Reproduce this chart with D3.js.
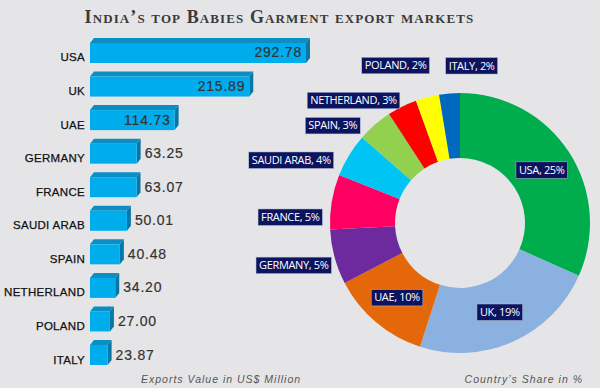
<!DOCTYPE html>
<html>
<head>
<meta charset="utf-8">
<script src="https://cdn.jsdelivr.net/npm/d3@7"></script>
<style>
  html, body { margin: 0; padding: 0; background: #e5e5e7; }
  svg { display: block; }
</style>
</head>
<body>
<svg id="chart" width="600" height="388"></svg>
<script>
// data
const countries = ['USA', 'UK', 'UAE', 'GERMANY', 'FRANCE', 'SAUDI ARAB', 'SPAIN', 'NETHERLAND', 'POLAND', 'ITALY'];
const exportValues = [292.78, 215.89, 114.73, 63.25, 63.07, 50.01, 40.48, 34.20, 27.00, 23.87];
const sharePct = [25, 19, 10, 5, 5, 4, 3, 3, 2, 2];
const sliceColors = ['#00ad4c', '#8bb1e1', '#e4680a', '#6c2a9e', '#ff0062', '#00c4f4', '#92d050', '#ff0000', '#ffff00', '#0068bd'];

const width = 600, height = 388;
const svg = d3.select('#chart');

svg.append('rect').attr('width', width).attr('height', height).attr('fill', '#e5e5e7');

// title
svg.append('text')
  .attr('x', 279.5).attr('y', 23)
  .attr('text-anchor', 'middle')
  .attr('font-family', 'Liberation Serif, serif')
  .attr('font-size', 18)
  .attr('font-weight', 'bold')
  .style('font-variant', 'small-caps')
  .attr('letter-spacing', 1.1)
  .attr('fill', '#3a3a3a')
  .text('India’s top Babies Garment export markets');

// ---- bar chart (pseudo 3D) ----
const x = d3.scaleLinear().domain([0, d3.max(exportValues)]).range([90, 306]);
const y = d3.scaleBand().domain(countries).range([43, 365]).paddingInner(0.404).paddingOuter(0);
const depthX = 4, depthY = 5;

const bars = svg.append('g')
  .selectAll('g')
  .data(countries.map((c, i) => ({ c, v: exportValues[i] })))
  .enter()
  .append('g');

// top face
bars.append('path')
  .attr('fill', '#0b8ec3')
  .attr('d', d => {
    const x0 = x(0), x1 = x(d.v), yy = y(d.c);
    return `M${x0},${yy}L${x0 + depthX},${yy - depthY}L${x1 + depthX},${yy - depthY}L${x1},${yy}Z`;
  });

// side face
bars.append('path')
  .attr('fill', '#0a76a6')
  .attr('d', d => {
    const x1 = x(d.v), yy = y(d.c), h = y.bandwidth();
    return `M${x1},${yy}L${x1 + depthX},${yy - depthY}L${x1 + depthX},${yy + h - depthY}L${x1},${yy + h}Z`;
  });

// front face
bars.append('rect')
  .attr('x', x(0))
  .attr('y', d => y(d.c))
  .attr('width', d => x(d.v) - x(0))
  .attr('height', y.bandwidth())
  .attr('fill', '#00adec');

// category labels
bars.append('text')
  .attr('x', x(0) - 5)
  .attr('y', d => y(d.c) + y.bandwidth() - 1.5)
  .attr('text-anchor', 'end')
  .attr('font-family', 'Liberation Sans, Arial, sans-serif')
  .attr('font-size', 11.5)
  .attr('letter-spacing', 0.3)
  .attr('fill', '#111')
  .attr('stroke', '#111')
  .attr('stroke-width', 0.25)
  .text(d => d.c);

// value labels: inside the long bars, outside the short ones
bars.append('text')
  .attr('x', d => d.v > 100 ? x(d.v) - 4 : x(d.v) + depthX + 4)
  .attr('y', d => y(d.c) + y.bandwidth() / 2 + 4.5)
  .attr('text-anchor', d => d.v > 100 ? 'end' : 'start')
  .attr('font-family', 'Liberation Sans, Arial, sans-serif')
  .attr('font-size', 14)
  .attr('letter-spacing', 0.8)
  .attr('fill', '#333')
  .attr('stroke', '#333')
  .attr('stroke-width', 0.2)
  .text(d => d.v.toFixed(2));

// ---- donut ----
const cx = 460, cy = 223, rOuter = 130, rInner = 65;
const pie = d3.pie().sort(null).value(d => d.v);
const arcs = pie(countries.map((c, i) => ({ c, v: exportValues[i], p: sharePct[i], i })));
const arc = d3.arc().innerRadius(rInner).outerRadius(rOuter);
const labelArc = d3.arc().innerRadius(165).outerRadius(165);

const donut = svg.append('g').attr('transform', `translate(${cx},${cy})`);
donut.selectAll('path')
  .data(arcs)
  .enter()
  .append('path')
  .attr('d', arc)
  .attr('fill', d => sliceColors[d.data.i]);

// label nudges (layout only): first three sit inside the ring
const labelNudge = [[0, 0], [0, 0], [0, 0], [-7, -1], [-7, 21], [-28, 23], [-19, 27], [-33, 25], [-23, 2], [25, 7]];

const labels = donut.selectAll('g.lbl')
  .data(arcs)
  .enter()
  .append('g')
  .attr('class', 'lbl')
  .attr('transform', d => {
    const p = d.data.i < 3 ? arc.centroid(d) : labelArc.centroid(d);
    const n = labelNudge[d.data.i];
    return `translate(${p[0] + n[0]},${p[1] + n[1]})`;
  });

labels.append('rect')
  .attr('fill', '#0c1460')
  .attr('stroke', '#b9bfd6')
  .attr('stroke-width', 0.5);

const ltext = labels.append('text')
  .attr('text-anchor', 'middle')
  .attr('y', 4)
  .attr('font-family', 'Open Sans, sans-serif')
  .attr('font-size', 11)
  .attr('letter-spacing', -0.35)
  .attr('fill', '#fff')
  .text(d => `${d.data.c}, ${d.data.p}%`);

ltext.each(function () {
  const w = this.getComputedTextLength();
  d3.select(this.parentNode).select('rect')
    .attr('x', -w / 2 - 3).attr('y', -8)
    .attr('width', w + 6).attr('height', 16.5);
});

// footers
svg.append('text')
  .attr('x', 141).attr('y', 383)
  .attr('font-family', 'Liberation Sans, Arial, sans-serif')
  .attr('font-style', 'italic')
  .attr('font-size', 10.5)
  .attr('letter-spacing', 1)
  .attr('fill', '#555')
  .text('Exports Value in US$ Million');

svg.append('text')
  .attr('x', 583).attr('y', 383)
  .attr('text-anchor', 'end')
  .attr('font-family', 'Liberation Sans, Arial, sans-serif')
  .attr('font-style', 'italic')
  .attr('font-size', 10.5)
  .attr('letter-spacing', 1)
  .attr('fill', '#555')
  .text('Country’s Share in %');
</script>
</body>
</html>
